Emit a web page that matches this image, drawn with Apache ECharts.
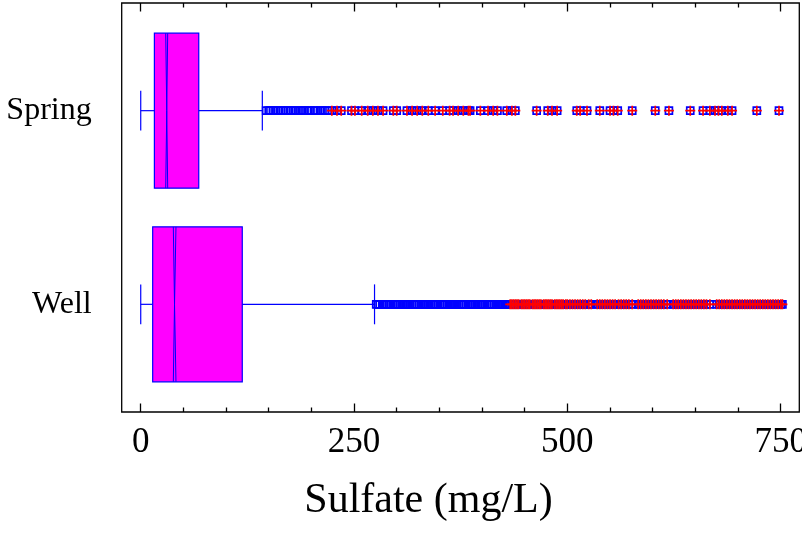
<!DOCTYPE html>
<html>
<head>
<meta charset="utf-8">
<script src="https://cdn.jsdelivr.net/npm/echarts@6/dist/echarts.min.js"></script>
<style>
html,body{margin:0;padding:0;background:#fff;}
#chart{width:802px;height:533px;}
</style>
</head>
<body>
<div id="chart"></div>
<script>
// ---- data ----
const categories = ['Well', 'Spring'];          // y positions 0, 1
const lowWhisker = [0, 0];
const q1 = [14, 16];
const notchLow = [38.2, 29.3];
const median = [39.6, 30.5];
const notchHigh = [41.3, 31.6];
const q3 = [119, 68];
const highWhisker = [274, 142.5];

const springOutside = [147, 150, 152, 155, 158, 161, 164, 167, 170, 173, 176, 179, 182, 186, 189, 192, 196, 199, 203, 206, 210, 213, 216, 219];
const springFarOutside = [224, 230, 235, 247, 251, 259, 266, 272, 278, 284, 296, 300, 312, 318, 324, 330, 337, 345,
  354, 362, 366, 372, 378, 384, 386, 398, 407, 413, 418, 429, 435, 439, 464, 477, 482, 488, 511, 515, 523,
  538, 550, 554, 559, 576, 603, 619, 644, 659, 667, 673, 677, 681, 688, 693, 722, 748];
const wellOutside = [276, 278, 280, 283, 285, 287, 289, 291, 293, 296, 298, 300, 302, 304, 307, 309, 311, 313, 315,
  318, 320, 322, 324, 326, 329, 331, 333, 335, 337, 340, 342, 344, 346, 348, 351, 353, 355, 357, 359, 362, 364,
  366, 368, 370, 373, 375, 377, 379, 381, 384, 386, 388, 390, 392, 395, 397, 399, 401, 403, 406, 408, 410, 412,
  414, 417, 419, 421, 423, 425, 428, 430];
const wellFarOutside = [433, 435, 437, 439, 441, 443, 446, 448, 450, 452, 454, 456, 459, 461, 463, 465, 467, 469,
  472, 474, 476, 478, 480, 482, 485, 487, 489, 491, 493, 495, 498, 500, 503, 506, 509, 512, 515, 518, 521, 525,
  528, 535, 538, 541, 544, 547, 550, 553, 556, 560, 563, 566, 569, 572, 576, 583, 586, 589, 592, 595, 598, 601,
  604, 607, 610, 613, 617, 624, 627, 630, 633, 636, 639, 642, 645, 648, 651, 654, 657, 660, 663, 667, 675, 678,
  681, 684, 687, 690, 693, 696, 699, 702, 705, 708, 711, 714, 717, 720, 723, 726, 729, 732, 735, 738, 741, 744,
  747, 750, 752];

const xMajorTicks = [0, 250, 500, 750];
const xMinorTicks = [50, 100, 150, 200, 300, 350, 400, 450, 550, 600, 650, 700];
const xTitle = 'Sulfate (mg/L)';

// ---- chart ----
const X_MIN = -22.3, X_MAX = 771.8;
const Y_MIN = -0.556, Y_MAX = 1.556;
const FONT = 'Liberation Serif';
const BLUE = '#0000ff';

function xAxisBase(position, ticks, len, showLabel) {
  return {
    type: 'value', position: position, min: X_MIN, max: X_MAX, gridIndex: 0,
    axisLine: { show: false, onZero: false },
    axisTick: { show: true, inside: true, length: len, customValues: ticks, lineStyle: { color: '#000', width: 1.3 } },
    axisLabel: showLabel ? { show: true, customValues: ticks, fontSize: 35, fontFamily: FONT, color: '#000', margin: 13 } : { show: false },
    splitLine: { show: false }
  };
}

const boxData = categories.map((c, i) => [i, lowWhisker[i], q1[i], notchLow[i], median[i], notchHigh[i], q3[i], highWhisker[i]]);

const chart = echarts.init(document.getElementById('chart'), null, { renderer: 'canvas' });
const bottomMajor = xAxisBase('bottom', xMajorTicks, 8.5, true);
bottomMajor.name = xTitle;
bottomMajor.nameLocation = 'middle';
bottomMajor.nameGap = 68;
bottomMajor.nameTextStyle = { fontSize: 42, fontFamily: FONT, color: '#000', padding: [0, 64, 0, 0] };

chart.setOption({
  animation: false,
  backgroundColor: '#fff',
  grid: {
    left: 121.7, right: 2.7, top: 3, bottom: 121,
    show: true, borderColor: '#000', borderWidth: 1.3, backgroundColor: '#fff',
    containLabel: false, outerBoundsMode: 'none'
  },
  xAxis: [
    bottomMajor,
    xAxisBase('bottom', xMinorTicks, 4.5, false),
    xAxisBase('top', xMajorTicks, 8.5, false),
    xAxisBase('top', xMinorTicks, 4.5, false)
  ],
  yAxis: [{
    type: 'value', min: Y_MIN, max: Y_MAX, position: 'left',
    axisLine: { show: false, onZero: false }, axisTick: { show: false }, splitLine: { show: false },
    axisLabel: {
      show: true, customValues: [0, 1],
      formatter: v => categories[Math.round(v)],
      fontSize: 32, fontFamily: FONT, color: '#000', margin: 30,
      padding: [0, 0, 10, 0]
    }
  }],
  series: [
    {
      type: 'custom', xAxisIndex: 0, yAxisIndex: 0, silent: true,
      data: boxData,
      encode: { x: [1, 2, 3, 4, 5, 6, 7], y: 0 },
      renderItem: function (params, api) {
        const y = api.value(0);
        const px = v => api.coord([v, y])[0];
        const cy = api.coord([api.value(4), y])[1];
        const halfH = api.size([0, 0.4])[1];
        const capH = api.size([0, 0.103])[1];
        const top = cy - halfH, bot = cy + halfH;
        const lo = px(api.value(1)), b1 = px(api.value(2)), nl = px(api.value(3)), md = px(api.value(4)),
          nh = px(api.value(5)), b3 = px(api.value(6)), hi = px(api.value(7));
        const lineStyle = { stroke: BLUE, lineWidth: 1.2 };
        return {
          type: 'group',
          children: [
            { type: 'line', shape: { x1: lo, y1: cy, x2: b1, y2: cy }, style: lineStyle },
            { type: 'line', shape: { x1: b3, y1: cy, x2: hi, y2: cy }, style: lineStyle },
            { type: 'line', shape: { x1: lo, y1: cy - capH, x2: lo, y2: cy + capH }, style: lineStyle },
            { type: 'line', shape: { x1: hi, y1: cy - capH, x2: hi, y2: cy + capH }, style: lineStyle },
            { type: 'rect', shape: { x: b1, y: top, width: b3 - b1, height: bot - top }, style: { fill: '#ff00ff', stroke: BLUE, lineWidth: 1.2 } },
            { type: 'polyline', shape: { points: [[nl, top], [md, cy], [nl, bot]] }, style: { fill: null, stroke: BLUE, lineWidth: 1 } },
            { type: 'polyline', shape: { points: [[nh, top], [md, cy], [nh, bot]] }, style: { fill: null, stroke: BLUE, lineWidth: 1 } }
          ]
        };
      }
    },
    {
      type: 'scatter', silent: true, symbol: 'rect', symbolSize: 7,
      itemStyle: { color: 'rgba(255,255,255,0)', borderColor: BLUE, borderWidth: 1.7, opacity: 1 },
      data: springOutside.concat(springFarOutside).map(v => [v, 1])
        .concat(wellOutside.concat(wellFarOutside).map(v => [v, 0]))
    },
    {
      type: 'scatter', silent: true, symbol: 'path://M0,5L10,5M5,0L5,10', symbolSize: 10,
      itemStyle: { color: 'none', borderColor: '#ff0000', borderWidth: 1.7, opacity: 1 },
      data: springFarOutside.map(v => [v, 1]).concat(wellFarOutside.map(v => [v, 0]))
    }
  ]
});
</script>
</body>
</html>
